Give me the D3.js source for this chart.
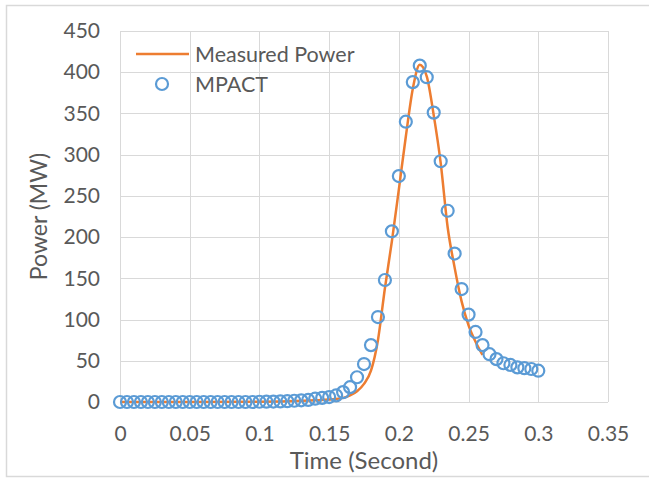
<!DOCTYPE html>
<html>
<head>
<meta charset="utf-8">
<script src="https://cdn.jsdelivr.net/npm/d3@7"></script>
<style>
  body { margin: 0; background: #fff; }
  text { font-family: Lato, "Open Sans", sans-serif; fill: #595959; }
</style>
</head>
<body>
<script>
// MPACT results, one point every 5 ms
const mpactTime = [0, 0.005, 0.01, 0.015, 0.02, 0.025, 0.03, 0.035, 0.04, 0.045,
  0.05, 0.055, 0.06, 0.065, 0.07, 0.075, 0.08, 0.085, 0.09, 0.095,
  0.1, 0.105, 0.11, 0.115, 0.12, 0.125, 0.13, 0.135, 0.14, 0.145,
  0.15, 0.155, 0.16, 0.165, 0.17, 0.175, 0.18, 0.185, 0.19, 0.195,
  0.2, 0.205, 0.21, 0.215, 0.22, 0.225, 0.23, 0.235, 0.24, 0.245,
  0.25, 0.255, 0.26, 0.265, 0.27, 0.275, 0.28, 0.285, 0.29, 0.295, 0.3];
const mpactPower = [0, 0, 0, 0, 0, 0, 0, 0, 0, 0,
  0, 0, 0, 0, 0, 0, 0, 0, 0, 0,
  0.3, 0.4, 0.5, 0.7, 1, 1.5, 2, 2.5, 4, 5,
  6, 8, 12, 18, 30, 46, 69, 103, 148, 207,
  274, 340, 388, 408, 394, 351, 292, 232, 180, 137,
  106, 85, 69, 58, 52, 47, 45, 42, 41, 40, 38];

// measured power
const measTime = [0, 0.05, 0.1, 0.12, 0.14, 0.15, 0.16, 0.165, 0.17, 0.175,
  0.18, 0.185, 0.19, 0.195, 0.2, 0.205, 0.21, 0.215, 0.22, 0.225,
  0.23, 0.235, 0.24, 0.245, 0.25, 0.255, 0.26];
const measPower = [0, 0, 0.3, 0.8, 2, 3, 5, 8, 13, 22,
  38, 75, 138, 195, 258, 322, 380, 409, 395, 348,
  290, 212, 163, 122, 93, 73, 57];

const xTicks = [0, 0.05, 0.1, 0.15, 0.2, 0.25, 0.3, 0.35];
const yTicks = [0, 50, 100, 150, 200, 250, 300, 350, 400, 450];

const W = 649, H = 478;
const plotL = 120, plotR = 608, plotT = 31, plotB = 402;

const svg = d3.select('body').append('svg')
  .attr('width', W)
  .attr('height', H);

// chart border
svg.append('rect')
  .attr('x', 6.5).attr('y', 5.5)
  .attr('width', 660).attr('height', 471)
  .attr('fill', 'none')
  .attr('stroke', '#d9d9d9')
  .attr('stroke-width', 1.5);

const x = d3.scaleLinear().domain([0, 0.35]).range([plotL, plotR]);
const y = d3.scaleLinear().domain([0, 450]).range([plotB, plotT]);

// gridlines
svg.append('g')
  .selectAll('line')
  .data(yTicks)
  .enter()
  .append('line')
  .attr('x1', plotL).attr('x2', plotR)
  .attr('y1', d => Math.round(y(d)) + 0.5)
  .attr('y2', d => Math.round(y(d)) + 0.5)
  .attr('stroke', '#d9d9d9');

svg.append('g')
  .selectAll('line')
  .data(xTicks)
  .enter()
  .append('line')
  .attr('y1', plotT).attr('y2', plotB)
  .attr('x1', d => Math.round(x(d)) + 0.5)
  .attr('x2', d => Math.round(x(d)) + 0.5)
  .attr('stroke', '#d9d9d9');

// tick labels
const xAxis = d3.axisBottom(x).tickValues(xTicks).tickSize(0).tickPadding(24)
  .tickFormat(d => String(+d.toFixed(2)));
svg.append('g')
  .attr('transform', `translate(0,${plotB})`)
  .call(xAxis)
  .call(g => g.select('.domain').remove())
  .selectAll('text')
  .style('font-size', '21px')
  .attr('fill', '#595959');

const yAxis = d3.axisLeft(y).tickValues(yTicks).tickSize(0).tickPadding(20);
svg.append('g')
  .attr('transform', `translate(${plotL},0)`)
  .call(yAxis)
  .call(g => g.select('.domain').remove())
  .selectAll('text')
  .style('font-size', '21px')
  .attr('fill', '#595959');

// axis titles
svg.append('text')
  .attr('x', (plotL + plotR) / 2)
  .attr('y', 469)
  .attr('text-anchor', 'middle')
  .style('font-size', '24px')
  .text('Time (Second)');

svg.append('text')
  .attr('transform', `translate(47,${(plotT + plotB) / 2}) rotate(-90)`)
  .attr('text-anchor', 'middle')
  .style('font-size', '23px')
  .text('Power (MW)');

// measured line
const measured = measTime.map((t, i) => [t, measPower[i]]);
const line = d3.line()
  .x(d => x(d[0]))
  .y(d => y(d[1]))
  .curve(d3.curveMonotoneX);

svg.append('path')
  .datum(measured)
  .attr('d', line)
  .attr('fill', 'none')
  .attr('stroke', '#ed7d31')
  .attr('stroke-width', 2.5);

// MPACT circles
svg.append('g')
  .selectAll('circle')
  .data(mpactTime.map((t, i) => [t, mpactPower[i]]))
  .enter()
  .append('circle')
  .attr('cx', d => x(d[0]))
  .attr('cy', d => y(d[1]))
  .attr('r', 6)
  .attr('fill', 'none')
  .attr('stroke', '#5b9bd5')
  .attr('stroke-width', 2.2);

// legend
const legend = svg.append('g');
legend.append('line')
  .attr('x1', 136).attr('x2', 189)
  .attr('y1', 54).attr('y2', 54)
  .attr('stroke', '#ed7d31')
  .attr('stroke-width', 2.5);
legend.append('text')
  .attr('x', 195).attr('y', 54)
  .attr('dy', '0.35em')
  .style('font-size', '21.5px')
  .text('Measured Power');
legend.append('circle')
  .attr('cx', 162).attr('cy', 84)
  .attr('r', 6)
  .attr('fill', 'none')
  .attr('stroke', '#5b9bd5')
  .attr('stroke-width', 2.2);
legend.append('text')
  .attr('x', 195).attr('y', 84)
  .attr('dy', '0.35em')
  .style('font-size', '21.5px')
  .text('MPACT');
</script>
</body>
</html>
